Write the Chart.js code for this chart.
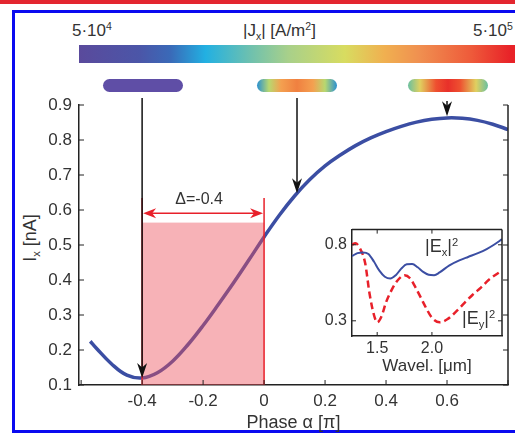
<!DOCTYPE html>
<html>
<head>
<meta charset="utf-8">
<script src="https://cdn.jsdelivr.net/npm/chart.js@4"></script>
<style>
  html, body { margin: 0; padding: 0; background: #fff; }
  body { width: 515px; height: 434px; position: relative; overflow: hidden;
         font-family: "Liberation Sans", Arial, sans-serif; color: #333; }
  #topline { position: absolute; left: 0; top: 0; width: 515px; height: 4px; background: #e3262f; }
  #frame { position: absolute; left: 12px; top: 10px; width: 530px; height: 417px; border: 3px solid #0a0af0; }
  #cbar { position: absolute; left: 79px; top: 45px; width: 436px; height: 18px;
          background: linear-gradient(to right, #5a4a9c 0%, #4b56a8 14%, #3a6ab8 21%, #22b0e2 29%,
                      #6cc0b0 39%, #a8d08a 48%, #d8dc60 61%, #f0b050 70%, #f09050 78%, #ee5a3a 90%, #e82228 99%); }
  .pill { position: absolute; top: 79px; width: 80px; height: 13px; border-radius: 7px; }
  #p1 { left: 103px; background: #5f4ea6; }
  #p2 { left: 257px; background: linear-gradient(to right, #2a90d0 0%, #b8d870 15%, #f4a050 30%, #f08040 50%, #f4a050 70%, #b8d870 85%, #2a90d0 100%); }
  #p3 { left: 408px; background: linear-gradient(to right, #6ac0a0 0%, #e0d060 15%, #ee5030 35%, #e8302a 50%, #ee5030 65%, #e0d060 85%, #6ac0a0 100%); }
  .lbl { position: absolute; font-size: 17px; white-space: nowrap; line-height: 1; }
  .sub { font-size: 0.62em; position: relative; top: 0.35em; }
  .sup { font-size: 0.62em; position: relative; top: -0.55em; }
  #ytitle { position: absolute; left: 30px; top: 238px; font-size: 18px; white-space: nowrap; line-height: 1;
            transform: translate(-50%, -50%) rotate(-90deg); }
  canvas { position: absolute; }
</style>
</head>
<body>
<div id="topline"></div>
<div id="frame"></div>
<div id="cbar"></div>
<div class="lbl" style="left:72px; top:22px;">5·10<span class="sup">4</span></div>
<div class="lbl" style="left:243px; top:22px;">|J<span class="sub">x</span>| [A/m<span class="sup">2</span>]</div>
<div class="lbl" style="left:473px; top:22px;">5·10<span class="sup">5</span></div>
<div class="pill" id="p1"></div>
<div class="pill" id="p2"></div>
<div class="pill" id="p3"></div>
<div id="ytitle">I<span class="sub">x</span> [nA]</div>
<canvas id="main" width="515" height="434" style="left:0; top:0;"></canvas>
<canvas id="inset" width="205" height="170" style="left:305px; top:215px;"></canvas>
<div class="lbl" style="left:425px; top:237px; font-size:18px;">|E<span class="sub">x</span>|<span class="sup">2</span></div>
<div class="lbl" style="left:462px; top:309px; font-size:18px;">|E<span class="sub">y</span>|<span class="sup">2</span></div>
<script>
// main curve: current vs phase
const phase = [-0.57, -0.55, -0.5, -0.45, -0.4, -0.35, -0.3, -0.25, -0.2, -0.15, -0.1, -0.05, 0,
               0.05, 0.1, 0.15, 0.2, 0.25, 0.3, 0.35, 0.4, 0.45, 0.5, 0.55, 0.6, 0.65, 0.7, 0.75, 0.8];
const current = [0.225, 0.205, 0.16, 0.128, 0.12, 0.135, 0.168, 0.215, 0.27, 0.33, 0.392, 0.457, 0.523,
                 0.585, 0.64, 0.687, 0.726, 0.757, 0.784, 0.806, 0.824, 0.839, 0.851, 0.859, 0.863, 0.862, 0.856, 0.845, 0.83];
const xTicks = [-0.6, -0.4, -0.2, 0, 0.2, 0.4, 0.6, 0.8];
const xTickLabels = ['', '-0.4', '-0.2', '0', '0.2', '0.4', '0.6', ''];
const yTicks = [0.1, 0.2, 0.3, 0.4, 0.5, 0.6, 0.7, 0.8, 0.9];
const yTickLabels = ['0.1', '0.2', '0.3', '0.4', '0.5', '0.6', '0.7', '0.8', '0.9'];

// shaded phase window and arrows (phase, current at tip)
const windowX = [-0.4, 0];
const windowTop = 0.564;
const windowLineTop = 0.634;
const deltaY = 0.591;
const deltaLabel = 'Δ=-0.4';
const arrowTips = [[-0.4, 0.12], [0.108, 0.648], [0.6, 0.868]];
const arrowStartPx = [98, 98, 101];

// inset: field intensities vs wavelength
const wlEx = [1.27, 1.32, 1.37, 1.42, 1.47, 1.52, 1.57, 1.62, 1.67, 1.72, 1.77, 1.82, 1.87, 1.92, 1.97, 2.02,
              2.07, 2.16, 2.25, 2.33, 2.42, 2.5, 2.57, 2.64];
const ex2 = [0.726, 0.745, 0.75, 0.74, 0.69, 0.63, 0.59, 0.578, 0.6, 0.643, 0.672, 0.674, 0.652, 0.622, 0.603, 0.6,
             0.618, 0.665, 0.697, 0.72, 0.745, 0.772, 0.802, 0.837];
const wlEy = [1.27, 1.3, 1.34, 1.39, 1.43, 1.47, 1.5, 1.54, 1.58, 1.63, 1.68, 1.75, 1.8, 1.85, 1.9, 1.95,
              2.0, 2.07, 2.14, 2.22, 2.3, 2.37, 2.45, 2.52, 2.64];
const ey2 = [0.8, 0.81, 0.78, 0.68, 0.48, 0.34, 0.29, 0.33, 0.42, 0.5, 0.56, 0.6, 0.58, 0.52, 0.45, 0.38,
             0.32, 0.29, 0.31, 0.36, 0.42, 0.47, 0.52, 0.57, 0.63];
const insetXTicks = [1.5, 2.0];
const insetXLabels = ['1.5', '2.0'];
const insetYTicks = [0.3, 0.8];
const insetYLabels = ['0.3', '0.8'];

const FONT = '"Liberation Sans", Arial, sans-serif';
const TEXT = '#333';

function line(ctx, x1, y1, x2, y2) {
    ctx.beginPath();
    ctx.moveTo(x1, y1);
    ctx.lineTo(x2, y2);
    ctx.stroke();
}

function head(ctx, x, y, dir, len, half) {
    // dir: 'down', 'left', 'right'
    ctx.beginPath();
    ctx.moveTo(x, y);
    if (dir === 'down') {
        ctx.lineTo(x - half, y - len);
        ctx.lineTo(x, y - len * 0.7);
        ctx.lineTo(x + half, y - len);
    } else if (dir === 'left') {
        ctx.lineTo(x + len, y - half);
        ctx.lineTo(x + len * 0.7, y);
        ctx.lineTo(x + len, y + half);
    } else {
        ctx.lineTo(x - len, y - half);
        ctx.lineTo(x - len * 0.7, y);
        ctx.lineTo(x - len, y + half);
    }
    ctx.closePath();
    ctx.fill();
}

function inwardTicks(chart, tickLen, sides) {
    const {ctx, chartArea: {left, right, top, bottom}, scales: {x, y}} = chart;
    ctx.save();
    ctx.strokeStyle = '#222';
    ctx.lineWidth = 1;
    x.ticks.forEach((t) => {
        const px = x.getPixelForValue(t.value);
        line(ctx, px, bottom, px, bottom - tickLen);
        if (sides.top) line(ctx, px, top, px, top + tickLen);
    });
    y.ticks.forEach((t) => {
        const py = y.getPixelForValue(t.value);
        line(ctx, left, py, left + tickLen, py);
        line(ctx, right, py, right - tickLen, py);
    });
    ctx.lineWidth = 1.5;
    line(ctx, right, top, right, bottom);
    if (sides.top) line(ctx, left, top, right, top);
    ctx.restore();
}

const phaseWindow = {
    id: 'phaseWindow',
    afterDatasetsDraw(chart) {
        const {ctx, scales: {x, y}} = chart;
        const x0 = x.getPixelForValue(windowX[0]);
        const x1 = x.getPixelForValue(windowX[1]);
        const yb = y.getPixelForValue(0.1);
        const yt = y.getPixelForValue(windowTop);
        ctx.save();
        // translucent window laid over the curve
        ctx.fillStyle = 'rgba(236, 80, 92, 0.44)';
        ctx.fillRect(x0, yt, x1 - x0, yb - yt);
        ctx.strokeStyle = '#e8202a';
        ctx.fillStyle = '#e8202a';
        ctx.lineWidth = 1.5;
        const lt = y.getPixelForValue(windowLineTop);
        line(ctx, x0, lt, x0, yb);
        line(ctx, x1, lt, x1, yb);
        const ay = y.getPixelForValue(deltaY);
        line(ctx, x0 + 6, ay, x1 - 6, ay);
        head(ctx, x0 + 1, ay, 'left', 13, 5);
        head(ctx, x1 - 1, ay, 'right', 13, 5);
        ctx.fillStyle = TEXT;
        ctx.font = '16px ' + FONT;
        ctx.textAlign = 'center';
        ctx.textBaseline = 'middle';
        ctx.fillText(deltaLabel, (x0 + x1) / 2 - 4, lt + 1);

        // black arrows from the current maps down to the curve
        ctx.strokeStyle = '#111';
        ctx.fillStyle = '#111';
        ctx.lineWidth = 1.5;
        arrowTips.forEach(([ax, ay2], i) => {
            const px = x.getPixelForValue(ax);
            const py = y.getPixelForValue(ay2);
            line(ctx, px, arrowStartPx[i], px, py - 8);
            head(ctx, px, py, 'down', 15, 5);
        });
        ctx.restore();
        inwardTicks(chart, 5, {top: false});
    }
};

new Chart(document.getElementById('main').getContext('2d'), {
    type: 'line',
    data: {
        datasets: [{
            data: phase.map((p, i) => ({x: p, y: current[i]})),
            borderColor: '#3b4ea3',
            borderWidth: 3.5,
            pointRadius: 0,
            tension: 0.4
        }]
    },
    options: {
        responsive: false,
        animation: false,
        layout: {padding: {top: 105, right: 7, left: 0, bottom: 0}},
        plugins: {legend: {display: false}, tooltip: {enabled: false}},
        scales: {
            x: {
                type: 'linear', min: -0.607, max: 0.8,
                afterBuildTicks: (s) => { s.ticks = xTicks.map((v) => ({value: v})); },
                afterFit: (s) => { s.height = 49; },
                grid: {display: false, drawTicks: false},
                border: {color: '#222', width: 1.5},
                ticks: {
                    callback: (v, i) => xTickLabels[i],
                    font: {size: 17, family: FONT}, color: TEXT, padding: 6, maxRotation: 0, autoSkip: false
                },
                title: {display: true, text: 'Phase α [π]', font: {size: 18, family: FONT}, color: TEXT, padding: {top: 0, bottom: 0}}
            },
            y: {
                min: 0.1, max: 0.9,
                afterBuildTicks: (s) => { s.ticks = yTicks.map((v) => ({value: v})); },
                afterFit: (s) => { s.width = 79; },
                grid: {display: false, drawTicks: false},
                border: {color: '#222', width: 1.5},
                ticks: {
                    callback: (v, i) => yTickLabels[i],
                    font: {size: 17, family: FONT}, color: TEXT, padding: 7, autoSkip: false
                }
            }
        }
    },
    plugins: [phaseWindow]
});

const insetBox = {
    id: 'insetBox',
    afterDatasetsDraw(chart) {
        inwardTicks(chart, 4, {top: true});
    }
};

new Chart(document.getElementById('inset').getContext('2d'), {
    type: 'line',
    data: {
        datasets: [{
            data: wlEx.map((w, i) => ({x: w, y: ex2[i]})),
            borderColor: '#3b4ea3',
            borderWidth: 2,
            pointRadius: 0,
            cubicInterpolationMode: 'monotone'
        }, {
            data: wlEy.map((w, i) => ({x: w, y: ey2[i]})),
            borderColor: '#e8202a',
            borderWidth: 2.5,
            borderDash: [7, 4],
            pointRadius: 0,
            cubicInterpolationMode: 'monotone'
        }]
    },
    options: {
        responsive: false,
        animation: false,
        layout: {padding: {top: 9, right: 8, left: 0, bottom: 0}},
        plugins: {legend: {display: false}, tooltip: {enabled: false}},
        scales: {
            x: {
                type: 'linear', min: 1.27, max: 2.64,
                afterBuildTicks: (s) => { s.ticks = insetXTicks.map((v) => ({value: v})); },
                afterFit: (s) => { s.height = 49; },
                grid: {display: false, drawTicks: false},
                border: {color: '#222', width: 1.5},
                ticks: {
                    callback: (v, i) => insetXLabels[i],
                    font: {size: 16, family: FONT}, color: TEXT, padding: 3, maxRotation: 0, autoSkip: false
                },
                title: {display: true, text: 'Wavel. [μm]', font: {size: 17, family: FONT}, color: TEXT, padding: {top: 0, bottom: 8}}
            },
            y: {
                min: 0.2, max: 0.9,
                afterBuildTicks: (s) => { s.ticks = insetYTicks.map((v) => ({value: v})); },
                afterFit: (s) => { s.width = 47; },
                grid: {display: false, drawTicks: false},
                border: {color: '#222', width: 1.5},
                ticks: {
                    callback: (v, i) => insetYLabels[i],
                    font: {size: 16, family: FONT}, color: TEXT, padding: 5, autoSkip: false
                }
            }
        }
    },
    plugins: [insetBox]
});
</script>
</body>
</html>
